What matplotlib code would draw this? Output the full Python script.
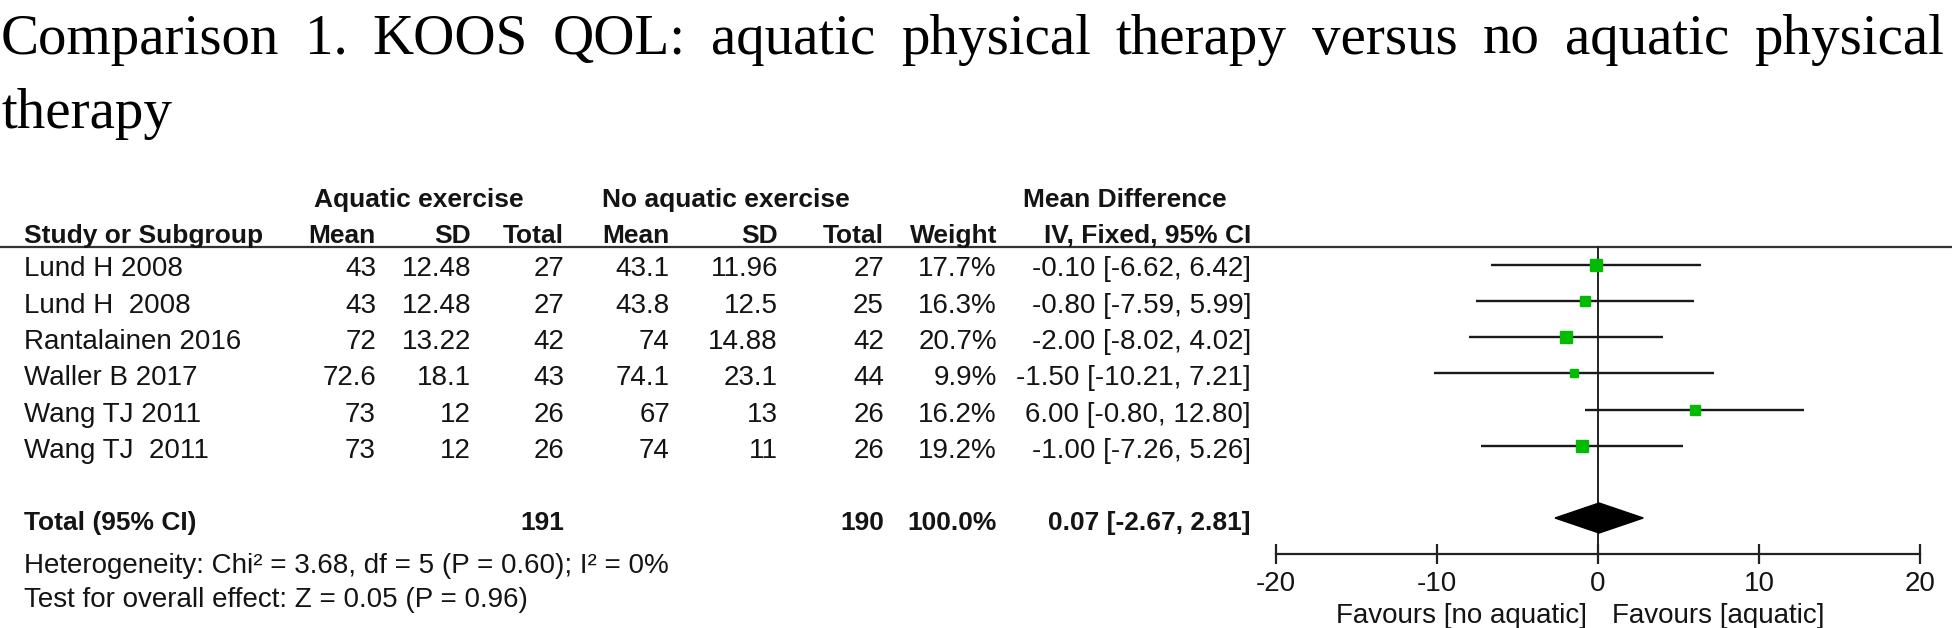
import matplotlib
matplotlib.use("Agg")
import matplotlib.pyplot as plt

# ---------------- data ----------------
studies = ["Lund H 2008", "Lund H  2008", "Rantalainen 2016", "Waller B 2017",
           "Wang TJ 2011", "Wang TJ  2011"]
aq_mean = [43, 43, 72, 72.6, 73, 73]
aq_sd = [12.48, 12.48, 13.22, 18.1, 12, 12]
aq_n = [27, 27, 42, 43, 26, 26]
no_mean = [43.1, 43.8, 74, 74.1, 67, 74]
no_sd = [11.96, 12.5, 14.88, 23.1, 13, 11]
no_n = [27, 25, 42, 44, 26, 26]
weight = [17.7, 16.3, 20.7, 9.9, 16.2, 19.2]
md = [-0.10, -0.80, -2.00, -1.50, 6.00, -1.00]
ci_lo = [-6.62, -7.59, -8.02, -10.21, -0.80, -7.26]
ci_hi = [6.42, 5.99, 4.02, 7.21, 12.80, 5.26]

total_aq_n = 191
total_no_n = 190
total_weight = 100.0
total_md = 0.07
total_lo = -2.67
total_hi = 2.81

x_ticks = [-20, -10, 0, 10, 20]
x_tick_labels = ["-20", "-10", "0", "10", "20"]

title_line1 = "Comparison 1. KOOS QOL: aquatic physical therapy versus no aquatic physical"
title_line2 = "therapy"
heterogeneity = "Heterogeneity: Chi\u00b2 = 3.68, df = 5 (P = 0.60); I\u00b2 = 0%"
overall = "Test for overall effect: Z = 0.05 (P = 0.96)"
fav_left = "Favours [no aquatic]"
fav_right = "Favours [aquatic]"

# ---------------- layout ----------------
W, H = 1952, 628
fig = plt.figure(figsize=(W / 100, H / 100), dpi=100)
ax = fig.add_axes([0, 0, 1, 1])
ax.set_xlim(0, W)
ax.set_ylim(H, 0)
ax.axis("off")

SANS = ["Liberation Sans", "DejaVu Sans"]
SERIF = ["Liberation Serif", "DejaVu Serif"]
FS = 20
FSB = 19
TC = "#141414"

# title (justified first line)
renderer = fig.canvas.get_renderer()
words = title_line1.split()
tw = [ax.text(0, 54, w, fontsize=41, family=SERIF, color="black", va="baseline", ha="left")
      for w in words]
widths = [t.get_window_extent(renderer).width for t in tw]
left, right = 1, 1944
gap = (right - left - sum(widths)) / (len(words) - 1)
x = left
for t, wd in zip(tw, widths):
    t.set_x(x)
    x += wd + gap
ax.text(left, 128, title_line2, fontsize=41, family=SERIF, color="black", va="baseline", ha="left")

# table columns (right edges)
col_name = 24
col_aq_mean, col_aq_sd, col_aq_n = 376, 471, 564
col_no_mean, col_no_sd, col_no_n = 670, 778, 884
col_w, col_ci = 997, 1251

hdr1_y, hdr2_y = 207, 243
line_y = 247

def txt(x, y, s, ha="right", bold=False):
    ax.text(x, y, s, fontsize=FSB if bold else FS, family=SANS, color=TC, ha=ha,
            va="baseline", fontweight="bold" if bold else "normal")

txt(419, hdr1_y, "Aquatic exercise", ha="center", bold=True)
txt(726, hdr1_y, "No aquatic exercise", ha="center", bold=True)
txt(1125, hdr1_y, "Mean Difference", ha="center", bold=True)
txt(col_name, hdr2_y, "Study or Subgroup", ha="left", bold=True)
for cx, s in [(col_aq_mean, "Mean"), (col_aq_sd, "SD"), (col_aq_n, "Total"),
              (col_no_mean, "Mean"), (col_no_sd, "SD"), (col_no_n, "Total"),
              (col_w, "Weight"), (col_ci, "IV, Fixed, 95% CI")]:
    txt(cx, hdr2_y, s, bold=True)

ax.plot([0, W], [line_y, line_y], color="#333333", lw=1.6, solid_capstyle="butt")

row0, drow = 264.5, 36.3
row_y = [row0 + i * drow for i in range(len(studies))]
for i, y in enumerate(row_y):
    b = y + 12
    txt(col_name, b, studies[i], ha="left")
    txt(col_aq_mean, b, f"{aq_mean[i]:g}")
    txt(col_aq_sd, b, f"{aq_sd[i]:g}")
    txt(col_aq_n, b, f"{aq_n[i]}")
    txt(col_no_mean, b, f"{no_mean[i]:g}")
    txt(col_no_sd, b, f"{no_sd[i]:g}")
    txt(col_no_n, b, f"{no_n[i]}")
    txt(col_w, b, f"{weight[i]:.1f}%")
    txt(col_ci, b, f"{md[i]:.2f} [{ci_lo[i]:.2f}, {ci_hi[i]:.2f}]")

tot_y = 518
tb = tot_y + 12
txt(col_name, tb, "Total (95% CI)", ha="left", bold=True)
txt(col_aq_n, tb, f"{total_aq_n}", bold=True)
txt(col_no_n, tb, f"{total_no_n}", bold=True)
txt(col_w, tb, f"{total_weight:.1f}%", bold=True)
txt(col_ci, tb, f"{total_md:.2f} [{total_lo:.2f}, {total_hi:.2f}]", bold=True)
txt(col_name, 573, heterogeneity, ha="left")
txt(col_name, 607, overall, ha="left")

# ---------------- forest plot ----------------
x0px, x1px = 1276, 1920
fax = fig.add_axes([x0px / W, 0, (x1px - x0px) / W, 1])
fax.set_xlim(-20, 20)
fax.set_ylim(H, 0)
fax.patch.set_visible(False)
for s in ["top", "left", "right"]:
    fax.spines[s].set_visible(False)
axis_y = 554
fax.spines["bottom"].set_position(("data", axis_y))
fax.spines["bottom"].set_linewidth(1.6)
fax.spines["bottom"].set_color("#222222")
fax.set_yticks([])
fax.set_xticks(x_ticks)
fax.set_xticklabels(x_tick_labels, fontsize=FS, family=SANS, color=TC)
fax.tick_params(axis="x", direction="inout", length=14, width=1.6, color="#222222", pad=5)

fax.plot([0, 0], [line_y, axis_y], color="#222222", lw=1.4, zorder=1)

for i, y in enumerate(row_y):
    fax.plot([ci_lo[i], ci_hi[i]], [y, y], color="#1a1a1a", lw=1.7, zorder=2,
             solid_capstyle="butt")
    fax.plot([md[i]], [y], marker="s", ms=1.95 * weight[i] ** 0.5, color="#00bb00",
             mec="#00bb00", zorder=3)

half_h = 15
fax.fill([total_lo, total_md, total_hi, total_md],
         [tot_y, tot_y - half_h, tot_y, tot_y + half_h], color="black", zorder=3)

fax.text(-0.7, 623, fav_left, fontsize=FS, family=SANS, color=TC, ha="right", va="baseline")
fax.text(0.9, 623, fav_right, fontsize=FS, family=SANS, color=TC, ha="left", va="baseline")

fig.savefig("out.png", dpi=100)
